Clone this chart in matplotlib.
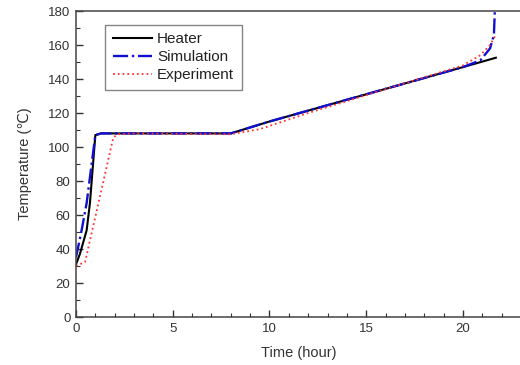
import numpy as np
import matplotlib
matplotlib.use("Agg")
import matplotlib.pyplot as plt
from matplotlib.ticker import MultipleLocator

# === DATA ===
heater_t = [0, 0.2, 0.55, 0.72, 1.0, 1.3, 2.0, 8.0, 10.0, 15.0, 20.0, 21.7]
heater_T = [31, 37, 51, 67, 107, 108, 108, 108, 115, 131, 147, 152.5]

sim_t = [0, 0.29, 0.55, 1.0, 1.3, 2.0, 8.0, 10.0, 15.0, 20.0, 20.9, 21.4, 21.6, 21.65]
sim_T = [35, 51, 67, 107, 108, 108, 108, 115, 131, 147, 151, 158, 166, 181]

exp_t = [0, 0.47, 1.93, 2.2, 3.0, 8.0, 9.5, 12.0, 15.0, 20.0, 20.9, 21.4, 21.7]
exp_T = [30, 32.4, 105.7, 107.5, 108, 107.5, 110.5, 120, 130.5, 148, 154, 160, 166]

x_ticks = [0, 5, 10, 15, 20]
y_ticks = [0, 20, 40, 60, 80, 100, 120, 140, 160, 180]

plt.rcParams['font.family'] = ['Liberation Sans', 'DejaVu Sans']
txt = '#333333'

fig = plt.figure(figsize=(5.2, 3.65), dpi=100)
ax = fig.add_axes([76 / 520, 48 / 365, 445 / 520, 306 / 365])

ax.plot(heater_t, heater_T, color='black', lw=1.5, label='Heater')
ax.plot(sim_t, sim_T, color='#1010d0', lw=1.7, ls='-.', label='Simulation')
ax.plot(exp_t, exp_T, color='#ff3333', lw=1.3, ls=':', label='Experiment')

ax.set_xlim(0, 23)
ax.set_ylim(0, 180)
ax.set_xticks(x_ticks)
ax.set_yticks(y_ticks)
ax.xaxis.set_minor_locator(MultipleLocator(1))
ax.yaxis.set_minor_locator(MultipleLocator(10))
ax.tick_params(which='both', direction='in', top=False, right=False,
               labelsize=9.5, labelcolor=txt, color='#333333')
ax.tick_params(which='major', length=5, width=1.0, pad=4)
ax.tick_params(which='minor', length=3, width=0.8)
for s in ax.spines.values():
    s.set_color('#444444')
    s.set_linewidth(1.1)

ax.set_xlabel('Time (hour)', fontsize=10.5, color=txt, labelpad=8)
ax.set_ylabel('Temperature (\u2103)', fontsize=10.5, color=txt, labelpad=12)

leg = ax.legend(loc='upper left', bbox_to_anchor=(0.065, 0.955), fontsize=11,
                frameon=True, fancybox=False, edgecolor='#666666',
                handlelength=2.6, handletextpad=0.3, labelspacing=0.25,
                borderpad=0.5, borderaxespad=0)
for t in leg.get_texts():
    t.set_color('#222222')

fig.savefig('out.png', dpi=100)
